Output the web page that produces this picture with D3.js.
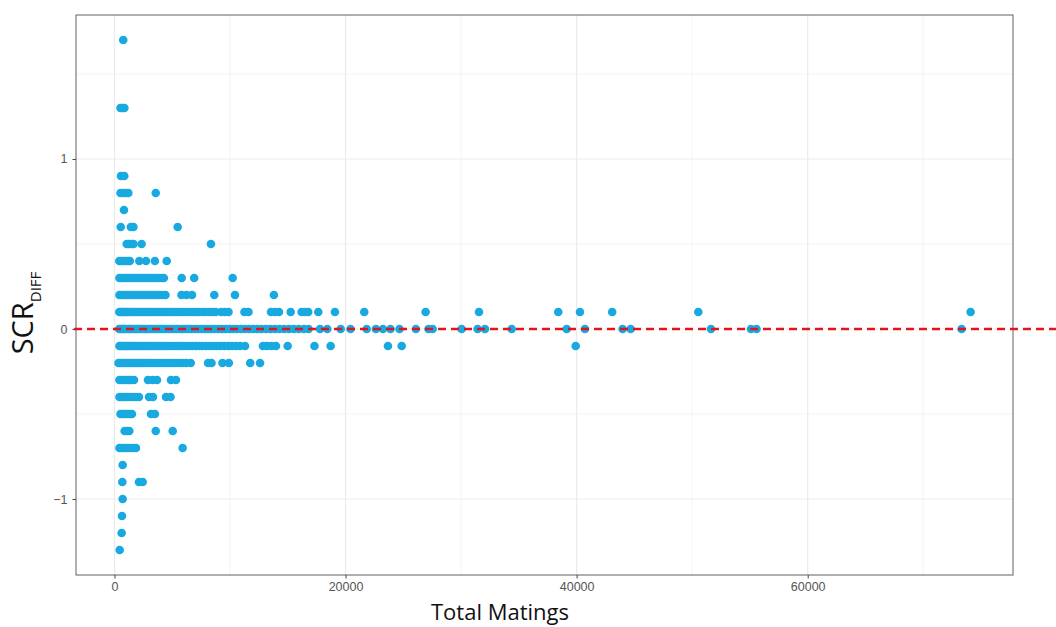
<!DOCTYPE html>
<html><head><meta charset="utf-8">
<script src="https://cdn.jsdelivr.net/npm/d3@7"></script>
<style>body{margin:0;background:#fff}</style>
</head><body>
<svg id="c" width="1056" height="627"></svg>
<script>
// ---- data ----
const scrLevels = [1.7, 1.3, 0.9, 0.8, 0.7, 0.6, 0.5, 0.4, 0.3, 0.2, 0.1, 0, -0.1, -0.2, -0.3, -0.4, -0.5, -0.6, -0.7, -0.8, -0.9, -1.0, -1.1, -1.2, -1.3];
const matingsAt_p1_7 = [760];
const matingsAt_p1_3 = [520, 700, 860];
const matingsAt_p0_9 = [560, 850];
const matingsAt_p0_8 = [520, 760, 1000, 1200, 3570];
const matingsAt_p0_7 = [820];
const matingsAt_p0_6 = [540, 1420, 1640, 5470];
const matingsAt_p0_5 = [1060, 1250, 1480, 1650, 2350, 8350];
const matingsAt_p0_4 = [420, 600, 800, 1000, 1200, 1330, 2150, 2730, 3500, 4520];
const matingsAt_p0_3 = [430, 620, 840, 1050, 1260, 1480, 1720, 1950, 2200, 2430, 2680, 2900, 3150, 3400, 3620, 3860, 4080, 4270, 5820, 6900, 10230];
const matingsAt_p0_2 = [430, 600, 800, 1030, 1250, 1480, 1700, 1950, 2180, 2420, 2650, 2900, 3130, 3380, 3600, 3850, 4100, 4410, 5800, 6230, 6710, 8640, 10430, 13800];
const matingsAt_p0_1 = [420, 560, 700, 860, 1010, 1170, 1330, 1500, 1680, 1850, 2030, 2200, 2400, 2600, 2790, 3000, 3200, 3420, 3640, 3850, 4080, 4300, 4550, 4780, 5020, 5270, 5500, 5760, 6010, 6280, 6540, 6800, 7080, 7350, 7630, 7900, 8200, 8480, 8760, 9250, 9540, 9870, 11250, 11600, 13550, 13890, 14240, 15250, 16200, 16490, 16770, 17640, 19080, 21620, 26930, 31550, 38410, 40290, 43080, 50530, 74100];
const matingsAt_0 = [400, 520, 650, 780, 910, 1050, 1190, 1330, 1480, 1630, 1790, 1950, 2110, 2280, 2450, 2630, 2810, 3000, 3190, 3390, 3590, 3800, 4010, 4230, 4450, 4680, 4910, 5150, 5390, 5640, 5890, 6150, 6410, 6680, 6950, 7230, 7510, 7800, 8090, 8390, 8690, 9000, 9310, 9630, 9950, 10280, 10610, 10950, 11290, 11640, 12000, 12360, 12730, 13110, 13490, 13880, 14280, 14690, 15100, 15520, 15950, 16400, 16800, 17790, 18420, 19580, 20430, 21830, 22630, 23240, 23890, 24670, 26090, 27180, 27540, 30050, 31430, 32070, 34380, 39140, 40720, 43980, 44680, 51630, 55090, 55570, 73320];
const matingsAt_m0_1 = [430, 570, 720, 870, 1020, 1180, 1340, 1510, 1680, 1860, 2040, 2230, 2420, 2620, 2820, 3030, 3240, 3460, 3680, 3910, 4140, 4380, 4620, 4870, 5120, 5380, 5640, 5910, 6180, 6460, 6740, 7030, 7320, 7620, 7920, 8230, 8540, 8860, 9180, 9510, 9840, 10180, 10520, 10870, 11300, 12850, 13200, 13590, 13980, 14990, 17310, 18710, 23670, 24860, 39920];
const matingsAt_m0_2 = [350, 520, 700, 880, 1070, 1260, 1460, 1660, 1870, 2080, 2300, 2520, 2750, 2980, 3220, 3460, 3710, 3960, 4220, 4480, 4750, 5020, 5300, 5580, 5870, 6200, 6600, 8100, 8400, 9350, 9900, 11750, 12600];
const matingsAt_m0_3 = [430, 650, 850, 1050, 1250, 1450, 1690, 2900, 3290, 3680, 4890, 5320];
const matingsAt_m0_4 = [430, 650, 850, 1100, 1350, 1600, 1850, 2120, 2990, 3330, 4460, 4850];
const matingsAt_m0_5 = [520, 750, 950, 1150, 1350, 1510, 3160, 3500];
const matingsAt_m0_6 = [880, 1080, 1280, 3570, 5040];
const matingsAt_m0_7 = [430, 650, 870, 1100, 1350, 1600, 1860, 5900];
const matingsAt_m0_8 = [710];
const matingsAt_m0_9 = [680, 2120, 2440];
const matingsAt_m1_0 = [710];
const matingsAt_m1_1 = [650];
const matingsAt_m1_2 = [620];
const matingsAt_m1_3 = [450];
const matingsByLevel = [matingsAt_p1_7, matingsAt_p1_3, matingsAt_p0_9, matingsAt_p0_8, matingsAt_p0_7, matingsAt_p0_6, matingsAt_p0_5, matingsAt_p0_4, matingsAt_p0_3, matingsAt_p0_2, matingsAt_p0_1, matingsAt_0, matingsAt_m0_1, matingsAt_m0_2, matingsAt_m0_3, matingsAt_m0_4, matingsAt_m0_5, matingsAt_m0_6, matingsAt_m0_7, matingsAt_m0_8, matingsAt_m0_9, matingsAt_m1_0, matingsAt_m1_1, matingsAt_m1_2, matingsAt_m1_3];

const xTicks = [0, 20000, 40000, 60000];
const xMinor = [10000, 30000, 50000, 70000];
const yTicks = [-1, 0, 1];
const yMinor = [-0.5, 0.5, 1.5];
const xDomain = [-3330, 77770];
const yDomain = [-1.447, 1.847];
const refValue = 0;
const xTitle = "Total Matings";

// ---- drawing ----
const svg = d3.select("#c");
const P = {left: 76, right: 1013, top: 15, bottom: 575};
const x = d3.scaleLinear().domain(xDomain).range([P.left, P.right]);
const y = d3.scaleLinear().domain(yDomain).range([P.bottom, P.top]);

svg.append("rect").attr("width", 1056).attr("height", 627).attr("fill", "#fff");

const grid = svg.append("g");
grid.selectAll(".vminor").data(xMinor).join("line")
  .attr("x1", d => x(d)).attr("x2", d => x(d)).attr("y1", P.top).attr("y2", P.bottom)
  .attr("stroke", "#f0f0f0").attr("stroke-width", 0.8);
grid.selectAll(".hminor").data(yMinor).join("line")
  .attr("y1", d => y(d)).attr("y2", d => y(d)).attr("x1", P.left).attr("x2", P.right)
  .attr("stroke", "#f0f0f0").attr("stroke-width", 0.8);
grid.selectAll(".vmajor").data(xTicks).join("line")
  .attr("x1", d => x(d)).attr("x2", d => x(d)).attr("y1", P.top).attr("y2", P.bottom)
  .attr("stroke", "#ebebeb").attr("stroke-width", 1.2);
grid.selectAll(".hmajor").data(yTicks).join("line")
  .attr("y1", d => y(d)).attr("y2", d => y(d)).attr("x1", P.left).attr("x2", P.right)
  .attr("stroke", "#ebebeb").attr("stroke-width", 1.2);

const pts = [];
scrLevels.forEach((lv, i) => matingsByLevel[i].forEach(m => pts.push({m, lv})));
svg.append("g").selectAll("circle").data(pts).join("circle")
  .attr("cx", d => x(d.m)).attr("cy", d => y(d.lv)).attr("r", 4.3)
  .attr("fill", "#19a9e1");

svg.append("rect").attr("x", P.left).attr("y", P.top)
  .attr("width", P.right - P.left).attr("height", P.bottom - P.top)
  .attr("fill", "none").attr("stroke", "#6e6e6e").attr("stroke-width", 1.1);

const xa = svg.append("g").attr("transform", `translate(0,${P.bottom})`)
  .call(d3.axisBottom(x).tickValues(xTicks).tickFormat(d3.format("d")).tickSize(3.5).tickPadding(4));
const ya = svg.append("g").attr("transform", `translate(${P.left},0)`)
  .call(d3.axisLeft(y).tickValues(yTicks).tickFormat(d3.format("d")).tickSize(3.5).tickPadding(5));
[xa, ya].forEach(a => {
  a.select(".domain").remove();
  a.selectAll(".tick line").attr("stroke", "#444");
  a.selectAll(".tick text").attr("fill", "#555").style("font-family", "'Liberation Sans', Arial, sans-serif").style("font-size", "12.5px");
});

svg.append("line").attr("x1", 74).attr("x2", 1056).attr("y1", y(refValue)).attr("y2", y(refValue))
  .attr("stroke", "#e3141b").attr("stroke-width", 2.6).attr("stroke-dasharray", "8,5");

svg.append("text").attr("x", 500).attr("y", 620).attr("text-anchor", "middle")
  .style("font-family", "'Open Sans', sans-serif").style("font-size", "22px").attr("fill", "#111")
  .text(xTitle);

const yt = svg.append("text").attr("transform", `translate(33,313) rotate(-90)`)
  .attr("text-anchor", "middle").style("font-family", "'Open Sans', sans-serif").attr("fill", "#111");
yt.append("tspan").style("font-size", "29px").text("SCR");
yt.append("tspan").style("font-size", "15px").attr("dy", 8).text("DIFF");
</script>
</body></html>
